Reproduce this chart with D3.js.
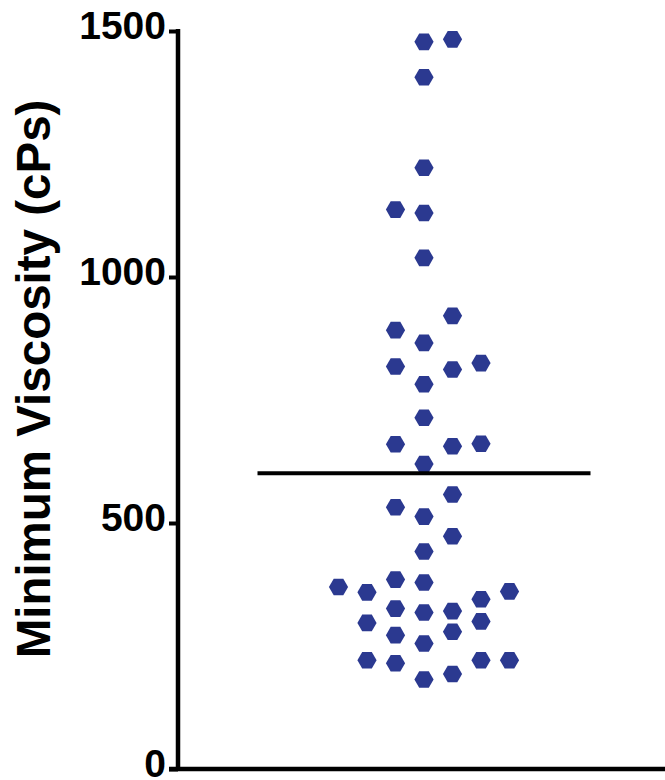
<!DOCTYPE html>
<html>
<head>
<meta charset="utf-8">
<script src="https://cdn.jsdelivr.net/npm/d3@7"></script>
<style>
  html, body { margin: 0; padding: 0; background: #ffffff; }
  svg { display: block; }
</style>
</head>
<body>
<svg id="chart" width="665" height="780"></svg>
<script>
// ---- data ----
const viscosity = [1478, 1483, 1406, 1222, 1137, 1130, 1039,
  921, 892, 866, 818, 812, 825, 782, 714, 660, 656, 661, 620,
  558, 532, 513, 473, 442, 370, 359, 385, 379, 345, 361,
  326, 318, 321, 297, 300, 272, 279, 255, 221, 215, 221, 221, 182, 193];
// horizontal swarm slot of each point (beeswarm column index)
const swarmSlot = [0, 1, 0, 0, -1, 0, 0,
  1, -1, 0, -1, 1, 2, 0, 0, -1, 1, 2, 0,
  1, -1, 0, 1, 0, -3, -2, -1, 0, 2, 3,
  -1, 0, 1, -2, 2, -1, 1, 0, -2, -1, 2, 3, 0, 1];
const yTicks = [0, 500, 1000, 1500];
const yLabel = "Minimum Viscosity (cPs)";

// ---- layout ----
const svg = d3.select("#chart");
const axisX = 178, axisBottom = 769, axisTop = 31;
const y = d3.scaleLinear().domain([0, 1500]).range([axisBottom, axisTop]);
const x = d3.scaleLinear().domain([-3, 3]).range([338.5, 509.5]);
const groupCenter = x(0);
const halfMean = 166.5;
const color = "#2b3990";

// y axis
const yAxis = d3.axisLeft(y).tickValues(yTicks).tickSize(9).tickSizeOuter(0).tickPadding(3).tickFormat(d3.format("d"));
const gy = svg.append("g").attr("transform", `translate(${axisX},0)`).call(yAxis);
gy.select(".domain").attr("stroke", "#000").attr("stroke-width", 4.5)
  .attr("d", `M0,${axisBottom}V${axisTop - 2}`);
gy.selectAll(".tick line").attr("stroke", "#000").attr("stroke-width", 4);
gy.selectAll(".tick text")
  .attr("fill", "#000")
  .style("font-family", "'Liberation Sans', Arial, sans-serif")
  .style("font-weight", "bold")
  .style("font-size", "39px")
  .attr("dy", "0.18em");

// x axis line
svg.append("line")
  .attr("x1", axisX - 9).attr("x2", 665)
  .attr("y1", axisBottom).attr("y2", axisBottom)
  .attr("stroke", "#000").attr("stroke-width", 4.5);

// y label
svg.append("text")
  .attr("transform", `translate(50,${379}) rotate(-90)`)
  .attr("text-anchor", "middle")
  .style("font-family", "'Liberation Sans', Arial, sans-serif")
  .style("font-weight", "bold")
  .style("font-size", "47.5px")
  .attr("fill", "#000")
  .text(yLabel);

// hexagon markers
const r = 9.6;
const hexPts = d3.range(6).map(i => {
  const a = Math.PI / 3 * i;
  return [r * Math.cos(a), r * Math.sin(a)];
});
const hexPath = "M" + hexPts.map(p => p.join(",")).join("L") + "Z";

svg.append("g").selectAll("path")
  .data(viscosity.map((v, i) => ({ v, s: swarmSlot[i] })))
  .join("path")
  .attr("d", hexPath)
  .attr("transform", d => `translate(${x(d.s)},${y(d.v)})`)
  .attr("fill", color);

// mean line
const mean = d3.mean(viscosity);
svg.append("line")
  .attr("x1", groupCenter - halfMean).attr("x2", groupCenter + halfMean)
  .attr("y1", y(mean)).attr("y2", y(mean))
  .attr("stroke", "#000").attr("stroke-width", 4);
</script>
</body>
</html>
